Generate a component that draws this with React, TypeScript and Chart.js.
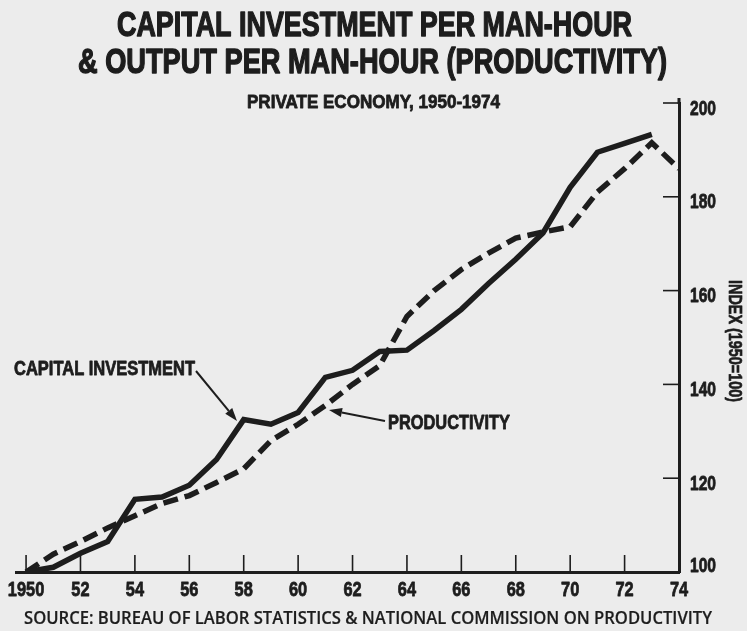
import React, { useEffect, useRef } from "react";
import { Chart, registerables } from "chart.js";

Chart.register(...registerables);

// ---- data ----
const years = [
  1950, 1951, 1952, 1953, 1954, 1955, 1956, 1957, 1958, 1959, 1960, 1961, 1962,
  1963, 1964, 1965, 1966, 1967, 1968, 1969, 1970, 1971, 1972, 1973, 1974,
];
const capitalInvestment = [
  100, 101, 104, 106.5, 115.5, 116, 118.5, 124, 132.5, 131.5, 134, 141.5, 143,
  147, 147.3, 151.5, 156, 161.5, 166.7, 172.3, 182, 189.5, 191.4, 193.3, null,
];
const productivity = [
  100, 103.8, 106.5, 109.4, 112, 114.6, 116.3, 119.1, 122, 128, 131.5, 135.5,
  140, 144, 154.5, 160, 164.5, 168, 171.2, 172.5, 173.6, 181, 186, 191.5, 186,
];
const xTickValues = [1950, 1952, 1954, 1956, 1958, 1960, 1962, 1964, 1966, 1968, 1970, 1972, 1974];
const xTickLabels = ["1950", "52", "54", "56", "58", "60", "62", "64", "66", "68", "70", "72", "74"];
const yTickValues = [100, 120, 140, 160, 180, 200];
const yTickLabels = ["100", "120", "140", "160", "180", "200"];

const titleLines = ["CAPITAL INVESTMENT PER MAN-HOUR", "& OUTPUT PER MAN-HOUR (PRODUCTIVITY)"];
const subtitle = "PRIVATE ECONOMY, 1950-1974";
const sourceText = "SOURCE: BUREAU OF LABOR STATISTICS & NATIONAL COMMISSION ON PRODUCTIVITY";
const capitalLabel = "CAPITAL INVESTMENT";
const productivityLabel = "PRODUCTIVITY";
const yTitle = "INDEX (1950=100)";

// ---- styles ----
const HELV = "'Liberation Sans', Arial, 'DejaVu Sans', sans-serif";
const SOURCE_FONT = "'Open Sans', 'DejaVu Sans', sans-serif";
const INK = "#1d1d1d";
const PAPER = "#ececec";
const CONDENSE = 0.78;

type Align = "left" | "center" | "right";

// draw text at a given font size, horizontally compressed either to a target width or by a factor
function drawText(
  ctx: CanvasRenderingContext2D,
  text: string,
  weight: string,
  family: string,
  size: number,
  x: number,
  baseline: number,
  align: Align,
  opts: { width?: number; factor?: number; rotate?: number; stroke?: number } = {}
) {
  ctx.save();
  ctx.font = `${weight} ${size}px ${family}`;
  const natural = ctx.measureText(text).width;
  const sx = opts.width ? opts.width / natural : opts.factor ?? 1;
  ctx.translate(x, baseline);
  if (opts.rotate) ctx.rotate(opts.rotate);
  ctx.scale(sx, 1);
  ctx.textAlign = align;
  ctx.textBaseline = "alphabetic";
  ctx.fillText(text, 0, 0);
  if (opts.stroke) {
    ctx.lineWidth = opts.stroke;
    ctx.lineJoin = "round";
    ctx.strokeText(text, 0, 0);
  }
  ctx.restore();
}

function arrow(ctx: CanvasRenderingContext2D, x1: number, y1: number, x2: number, y2: number) {
  const ang = Math.atan2(y2 - y1, x2 - x1);
  const len = 13;
  const half = 4.5;
  const bx = x2 - Math.cos(ang) * len;
  const by = y2 - Math.sin(ang) * len;
  ctx.lineWidth = 2;
  ctx.beginPath();
  ctx.moveTo(x1, y1);
  ctx.lineTo(bx, by);
  ctx.stroke();
  ctx.beginPath();
  ctx.moveTo(x2, y2);
  ctx.lineTo(bx - Math.sin(ang) * half, by + Math.cos(ang) * half);
  ctx.lineTo(bx + Math.sin(ang) * half, by - Math.cos(ang) * half);
  ctx.closePath();
  ctx.fill();
}

const decorPlugin = {
  id: "decor",
  afterDraw(chart: any) {
    const { ctx, chartArea, scales } = chart;
    const xs = scales.x;
    const ys = scales.y;
    ctx.save();
    ctx.fillStyle = INK;
    ctx.strokeStyle = INK;
    ctx.lineCap = "butt";

    // inward tick marks
    ctx.lineWidth = 1.6;
    xTickValues.forEach((v) => {
      if (v >= 1974) return;
      const px = xs.getPixelForValue(v);
      ctx.beginPath();
      ctx.moveTo(px, chartArea.bottom);
      ctx.lineTo(px, chartArea.bottom - 17);
      ctx.stroke();
    });
    yTickValues.forEach((v) => {
      if (v <= 100) return;
      const py = ys.getPixelForValue(v);
      ctx.beginPath();
      ctx.moveTo(chartArea.right - 16, py);
      ctx.lineTo(chartArea.right, py);
      ctx.stroke();
    });
    // axis top extension
    ctx.lineWidth = 3;
    ctx.beginPath();
    ctx.moveTo(chartArea.right, chartArea.top - 5);
    ctx.lineTo(chartArea.right, chartArea.top + 1);
    ctx.stroke();

    // tick labels
    xTickValues.forEach((v, i) => {
      const px = xs.getPixelForValue(v);
      drawText(ctx, xTickLabels[i], "bold", HELV, 21, px, chartArea.bottom + 24, "center", {
        factor: CONDENSE,
        stroke: 0.8,
      });
    });
    yTickValues.forEach((v, i) => {
      const py = ys.getPixelForValue(v);
      const base = v <= 100 ? py : py + 11.5;
      drawText(ctx, yTickLabels[i], "bold", HELV, 20, chartArea.right + 11, base, "left", {
        factor: CONDENSE,
        stroke: 0.8,
      });
    });

    // y axis title (rotated, reads top to bottom)
    drawText(ctx, yTitle, "bold", HELV, 19, 729, 341, "center", {
      width: 122,
      rotate: Math.PI / 2,
      stroke: 0.7,
    });

    // titles
    drawText(ctx, titleLines[0], "bold", HELV, 35, 374.5, 36, "center", { width: 515, stroke: 1.4 });
    drawText(ctx, titleLines[1], "bold", HELV, 35, 372.5, 73, "center", { width: 589, stroke: 1.4 });
    drawText(ctx, subtitle, "bold", HELV, 18, 373.5, 108, "center", { width: 253, stroke: 0.8 });

    // annotations
    drawText(ctx, capitalLabel, "bold", HELV, 19.5, 14, 375, "left", { width: 181, stroke: 0.8 });
    drawText(ctx, productivityLabel, "bold", HELV, 19.5, 388, 429, "left", { width: 122, stroke: 0.8 });
    arrow(ctx, 196, 371, 237, 421);
    arrow(ctx, 385, 421, 329, 410);

    // source
    drawText(ctx, sourceText, "600", SOURCE_FONT, 17.5, 24, 624, "left", { width: 688, stroke: 0.2 });

    ctx.restore();
  },
};

export default function App() {
  const ref = useRef<HTMLCanvasElement>(null);

  useEffect(() => {
    const canvas = ref.current!;
    const chart = new Chart(canvas, {
      type: "line",
      data: {
        datasets: [
          {
            label: "Capital Investment",
            data: years.map((yr, i) => ({ x: yr, y: capitalInvestment[i] as any })),
            borderColor: INK,
            borderWidth: 5.5,
            pointRadius: 0,
            tension: 0,
            spanGaps: false,
            borderJoinStyle: "miter",
          },
          {
            label: "Productivity",
            data: years.map((yr, i) => ({ x: yr, y: productivity[i] })),
            borderColor: INK,
            borderWidth: 5.5,
            borderDash: [15, 7],
            pointRadius: 0,
            tension: 0,
            borderJoinStyle: "miter",
          },
        ],
      },
      options: {
        responsive: false,
        animation: false,
        events: [],
        layout: { padding: { top: 103, left: 16, right: 0, bottom: 0 } },
        plugins: {
          legend: { display: false },
          tooltip: { enabled: false },
          title: { display: false },
        },
        scales: {
          x: {
            type: "linear",
            min: 1949.63,
            max: 1974,
            afterBuildTicks: (scale: any) => {
              scale.ticks = xTickValues.map((v) => ({ value: v }));
            },
            afterFit: (scale: any) => {
              scale.height = 59;
            },
            grid: { display: true, drawOnChartArea: false, drawTicks: false },
            border: { display: true, width: 3, color: INK },
            ticks: { display: false, autoSkip: false, maxRotation: 0 },
          },
          y: {
            type: "linear",
            position: "right",
            min: 100,
            max: 200,
            afterBuildTicks: (scale: any) => {
              scale.ticks = yTickValues.map((v) => ({ value: v }));
            },
            afterFit: (scale: any) => {
              scale.width = 68;
            },
            grid: { display: true, drawOnChartArea: false, drawTicks: false },
            border: { display: true, width: 3, color: INK },
            ticks: { display: false },
          },
        },
      },
      plugins: [decorPlugin],
    });
    return () => chart.destroy();
  }, []);

  return (
    <div
      style={{
        position: "fixed",
        left: 0,
        top: 0,
        width: 747,
        height: 631,
        background: PAPER,
      }}
    >
      <canvas ref={ref} width={747} height={631} style={{ width: 747, height: 631, display: "block" }} />
    </div>
  );
}
